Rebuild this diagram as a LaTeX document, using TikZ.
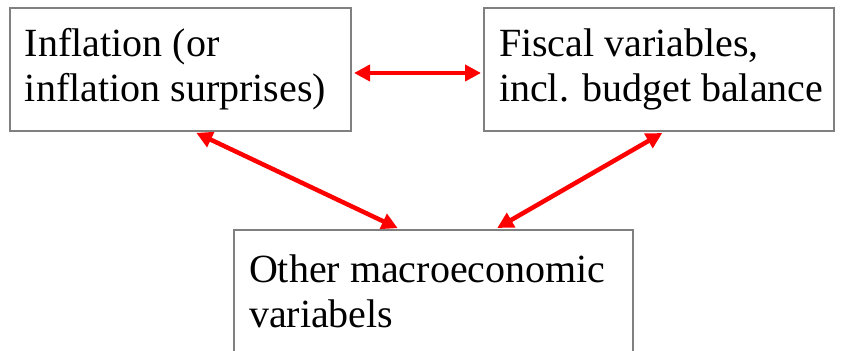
\documentclass[tikz,border=0pt]{standalone}
\usepackage{fontspec}
\setmainfont{Liberation Serif}
\usetikzlibrary{arrows.meta}

\begin{document}
\begin{tikzpicture}[
    x=0.5pt, y=-0.5pt,
    >={Triangle[length=8pt, width=8pt]},
    every node/.style={font=\fontsize{20pt}{22.5pt}\selectfont},
    box/.style={
        draw=gray,
        line width=1pt,
        anchor=north west,
        align=flush left,
        inner xsep=7.5pt,
        minimum height=61.5pt
    },
    link/.style={<->, red, line width=2.25pt, shorten <=1pt, shorten >=1pt}
]
    \useasboundingbox (0,0) rectangle (844,351);

    % Boxes
    \node[box, text width=155.5pt] (infl) at (9,7) {Inflation (or\\inflation surprises)};
    \node[box, text width=160pt] (fisc) at (483,7) {Fiscal variables,\\\mbox{incl. budget balance}};
    \node[box, text width=184.5pt] (macro) at (233,229) {Other macroeconomic\\variabels};

    % Links
    \draw[link] ([yshift=-1.75pt]infl.east) -- ([yshift=-1.75pt]fisc.west);
    \draw[link] ([xshift=7pt]infl.south) -- ([xshift=-17pt]macro.north);
    \draw[link] ([xshift=2.5pt]fisc.south) -- ([xshift=31pt]macro.north);

\end{tikzpicture}
\end{document}
